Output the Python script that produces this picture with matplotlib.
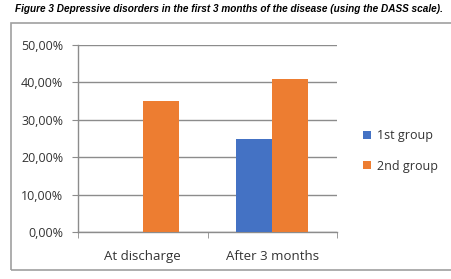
import matplotlib
matplotlib.use("Agg")
import matplotlib.pyplot as plt
from matplotlib.patches import Rectangle
from matplotlib.ticker import FuncFormatter
import numpy as np

categories = ["At discharge", "After 3 months"]
series_names = ["1st group", "2nd group"]
group1 = [0.0, 25.0]
group2 = [35.0, 41.0]
colors = ["#4472C4", "#ED7D31"]
title = "Figure 3 Depressive disorders in the first 3 months of the disease (using the DASS scale)."

W, H = 451, 279
fig = plt.figure(figsize=(W / 100, H / 100), dpi=100)

def fx(px):
    return px / W

def fy(py):
    return 1 - py / H

# outer frame
fig.patches.append(Rectangle((fx(11), fy(270)), fx(460) - fx(11), fy(23) - fy(270),
                             transform=fig.transFigure, fill=False,
                             edgecolor="#a0a0a0", linewidth=1.2, figure=fig))

fig.text(fx(15), fy(8.5), title, ha="left", va="center", fontsize=7.2,
         fontweight="bold", fontstyle="italic",
         family=["Liberation Sans Narrow", "Liberation Sans", "DejaVu Sans"])

ax = fig.add_axes([fx(78), fy(232), fx(337) - fx(78), fy(45) - fy(232)])
x = np.arange(len(categories))
bw = 0.278
ax.bar(x - bw / 2, group1, bw, color=colors[0], label=series_names[0], zorder=3)
ax.bar(x + bw / 2, group2, bw, color=colors[1], label=series_names[1], zorder=3)

ax.set_xlim(-0.5, len(categories) - 0.5)
ax.set_ylim(0, 50)
ax.set_yticks(np.arange(0, 51, 10))
ax.yaxis.set_major_formatter(FuncFormatter(lambda v, p: f"{v:.2f}%".replace(".", ",")))
ax.grid(axis="y", color="#8c8c8c", linewidth=1, zorder=0)
ax.set_axisbelow(True)

ax.set_xticks(x)
ax.set_xticklabels(categories)
ax.set_xticks([-0.5, 0.5, 1.5], minor=True)
ax.tick_params(axis="x", which="major", length=0, pad=13)
ax.tick_params(axis="x", which="minor", length=4, color="#8c8c8c")
ax.tick_params(axis="y", length=4.5, color="#8c8c8c", pad=6)
for lab in ax.get_xticklabels():
    lab.set_fontfamily("Open Sans")
    lab.set_fontsize(9.5)
    lab.set_color("#333333")
for lab in ax.get_yticklabels():
    lab.set_fontfamily("Open Sans")
    lab.set_fontsize(9)
    lab.set_color("#333333")

for s in ["top", "right"]:
    ax.spines[s].set_visible(False)
for s in ["left", "bottom"]:
    ax.spines[s].set_color("#8c8c8c")
    ax.spines[s].set_linewidth(1)

ax.legend(loc="center left", bbox_to_anchor=(fx(352), fy(151)),
          bbox_transform=fig.transFigure, frameon=False,
          prop={"family": "Open Sans", "size": 9}, handlelength=0.6, handleheight=0.6,
          handletextpad=0.5, labelspacing=1.4, labelcolor="#333333")

fig.savefig("out.png", dpi=100)
